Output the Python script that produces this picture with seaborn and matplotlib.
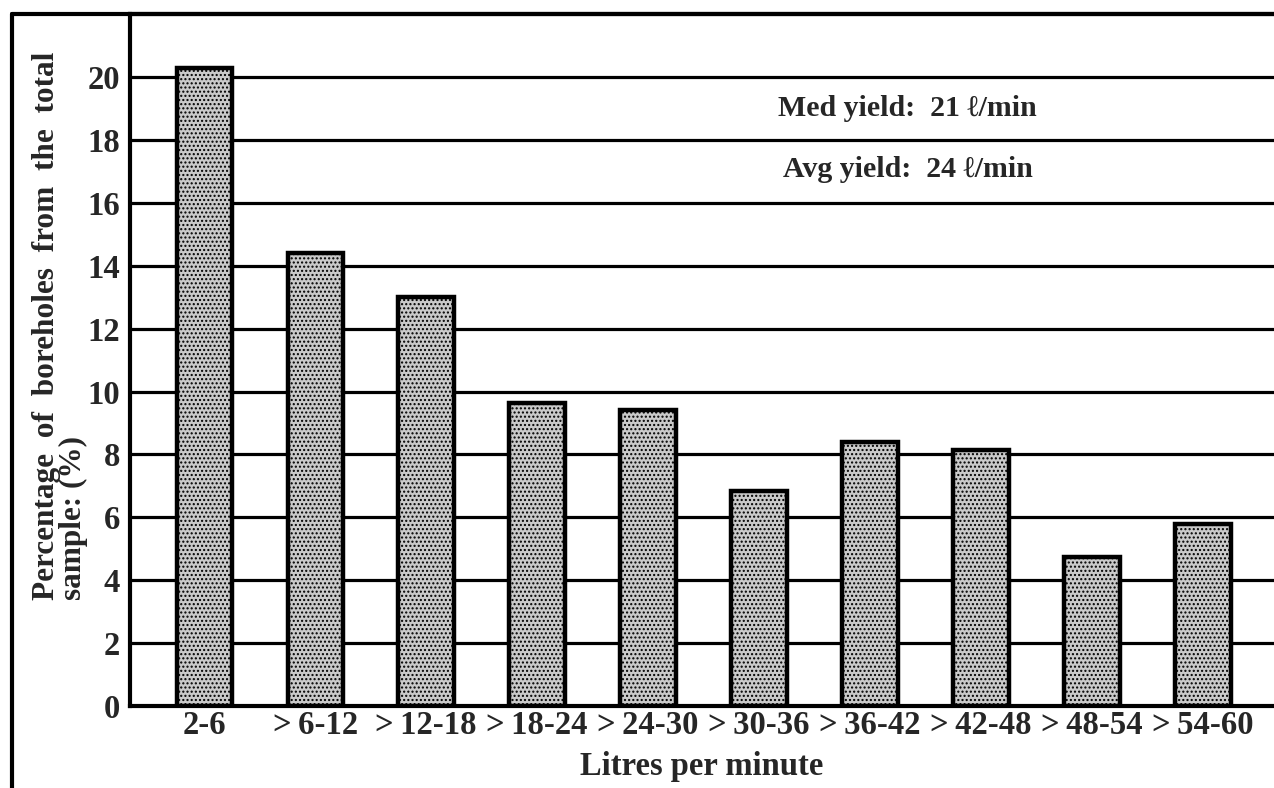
import matplotlib
matplotlib.use('Agg')
import matplotlib.pyplot as plt
import seaborn as sns
from matplotlib.lines import Line2D

categories = ['2-6', '>\u20096-12', '>\u200912-18', '>\u200918-24', '>\u200924-30',
              '>\u200930-36', '>\u200936-42', '>\u200942-48', '>\u200948-54', '>\u200954-60']
percent = [20.3, 14.4, 13.0, 9.65, 9.4, 6.85, 8.4, 8.15, 4.75, 5.8]
yticks = [0, 2, 4, 6, 8, 10, 12, 14, 16, 18, 20]
notes = ['Med yield:  21 \u2113/min', 'Avg yield:  24 \u2113/min']
note_y = [19.0, 17.05]

sns.set_style('white')
plt.rcParams['font.family'] = ['Liberation Serif', 'DejaVu Serif']
plt.rcParams['font.weight'] = 'bold'
plt.rcParams['hatch.linewidth'] = 1.0

fig = plt.figure(figsize=(12.74, 7.88), dpi=100)
ax = fig.add_axes([0.102, 0.104, 0.898, 0.878])

for y in yticks[1:]:
    ax.axhline(y, color='black', lw=2.3, zorder=0)

sns.barplot(x=categories, y=percent, ax=ax, color='#cacaca', width=0.5,
            edgecolor='black', linewidth=3.2, saturation=1, zorder=2)
for p in ax.patches:
    p.set_hatch('....')

ax.set_ylim(0, 22)
ax.set_xlim(-0.67, 9.64)
ax.set_yticks(yticks)
ax.tick_params(length=0, labelsize=23.5)
ax.tick_params(axis='y', pad=7)
ax.tick_params(axis='x', pad=3)
for lab in ax.get_xticklabels() + ax.get_yticklabels():
    lab.set_fontweight('bold')

ax.spines['right'].set_visible(False)
for s in ['left', 'bottom', 'top']:
    ax.spines[s].set_linewidth(3)
    ax.spines[s].set_color('black')

ax.set_xlabel('Litres per minute', fontsize=23.5, fontweight='bold', labelpad=7)
ax.set_ylabel('Percentage  of  boreholes  from  the  total\nsample: (%)',
              fontsize=22.5, fontweight='bold', multialignment='left',
              linespacing=0.9)
ax.yaxis.set_label_coords(-0.037, 0.55)

for t, y in zip(notes, note_y):
    ax.text(6.34, y, t, fontsize=21.5, fontweight='bold', ha='center',
            va='center', zorder=3)

# outer frame of the scanned page
fig.add_artist(Line2D([0.0094, 0.0094], [0.0, 0.982], color='black', lw=3,
                      transform=fig.transFigure))
fig.add_artist(Line2D([0.0094, 1.0], [0.982, 0.982], color='black', lw=3,
                      transform=fig.transFigure))

fig.savefig('out.png', dpi=100)
